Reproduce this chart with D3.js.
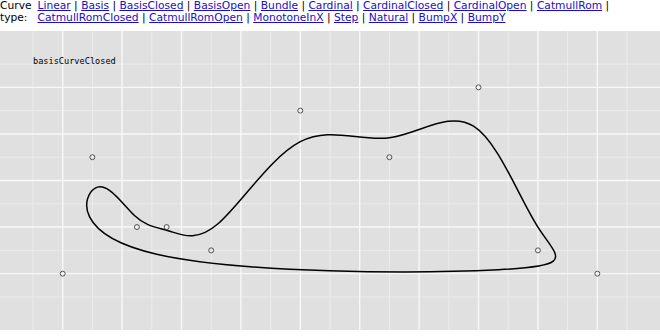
<!DOCTYPE html>
<html>
<head>
<meta charset="utf-8">
<script src="https://cdn.jsdelivr.net/npm/d3@7"></script>
<style>
  html, body { margin: 0; padding: 0; background: #fff; }
  #wrap { position: relative; width: 660px; height: 336px; overflow: hidden; }
  #hdr { position: absolute; left: 0; top: 0; width: 660px; z-index: 2; font-family: "DejaVu Sans", sans-serif; font-size: 10.7px; line-height: 12.4px; }
  #hdr table { border-collapse: collapse; }
  #hdr td { padding: 0; vertical-align: top; }
  #hdr td.lab { width: 37.5px; }
  #hdr a { color: #1a0dcc; text-decoration: underline; }
  svg { position: absolute; left: 0; top: 0; z-index: 1; }
</style>
</head>
<body>
<div id="wrap">
  <div id="hdr"><table><tr><td class="lab">Curve type:</td><td id="links"></td></tr></table></div>
  <svg id="chart" width="660" height="336"></svg>
</div>
<script>
// ---- data ----
const curveNames = ["Linear","Basis","BasisClosed","BasisOpen","Bundle","Cardinal","CardinalClosed","CardinalOpen","CatmullRom","CatmullRomClosed","CatmullRomOpen","MonotoneInX","Step","Natural","BumpX","BumpY"];
const pointX = [0, 1, 2.5, 3.5, 5, 8, 11, 14, 16, 18];
const pointY = [0, 5, 2, 2, 1, 7, 5, 8, 1, 0];
const xMajorTicks = [0, 2, 4, 6, 8, 10, 12, 14, 16, 18];
const xMinorTicks = [-1, 1, 3, 5, 7, 9, 11, 13, 15, 17, 19];
const yMajorTicks = [0, 2, 4, 6, 8];
const yMinorTicks = [-1, 1, 3, 5, 7, 9];
const curveLabel = "basisCurveClosed";

// ---- header links ----
const links = d3.select("#links");
curveNames.forEach((n, i) => {
  links.append("a").attr("href", "#").text(n);
  if (i < curveNames.length - 1) links.append("span").text(" | ");
});

// ---- chart ----
const W = 660, plotTop = 31, plotBottom = 330;
const svg = d3.select("#chart");
const x = d3.scaleLinear().domain([-2.11, 20.11]).range([0, W]);
const y = d3.scaleLinear().domain([-2.42, 10.42]).range([plotBottom, plotTop]);

svg.append("rect").attr("x", 0).attr("y", plotTop).attr("width", W).attr("height", plotBottom - plotTop).attr("fill", "#e0e0e0");

const grid = svg.append("g");
grid.selectAll("line.xmin").data(xMinorTicks).join("line").attr("class", "xmin")
  .attr("x1", d => x(d)).attr("x2", d => x(d)).attr("y1", plotTop).attr("y2", plotBottom)
  .attr("stroke", "#ececec").attr("stroke-width", 1);
grid.selectAll("line.ymin").data(yMinorTicks).join("line").attr("class", "ymin")
  .attr("y1", d => y(d)).attr("y2", d => y(d)).attr("x1", 0).attr("x2", W)
  .attr("stroke", "#ececec").attr("stroke-width", 1);
grid.selectAll("line.xmaj").data(xMajorTicks).join("line").attr("class", "xmaj")
  .attr("x1", d => x(d)).attr("x2", d => x(d)).attr("y1", plotTop).attr("y2", plotBottom)
  .attr("stroke", "#f8f8f8").attr("stroke-width", 1.4);
grid.selectAll("line.ymaj").data(yMajorTicks).join("line").attr("class", "ymaj")
  .attr("y1", d => y(d)).attr("y2", d => y(d)).attr("x1", 0).attr("x2", W)
  .attr("stroke", "#f8f8f8").attr("stroke-width", 1.4);

const pts = pointX.map((v, i) => [v, pointY[i]]);

const line = d3.line().x(d => x(d[0])).y(d => y(d[1])).curve(d3.curveBasisClosed);
svg.append("path").datum(pts).attr("d", line)
  .attr("fill", "none").attr("stroke", "#000").attr("stroke-width", 1.5);

svg.selectAll("circle").data(pts).join("circle")
  .attr("cx", d => x(d[0])).attr("cy", d => y(d[1])).attr("r", 2.5)
  .attr("fill", "none").attr("stroke", "#555").attr("stroke-width", 1);

svg.append("text").attr("x", x(-1)).attr("y", y(9))
  .attr("font-family", "DejaVu Sans Mono, monospace").attr("font-size", 8.6)
  .attr("fill", "#000").text(curveLabel);
</script>
</body>
</html>
